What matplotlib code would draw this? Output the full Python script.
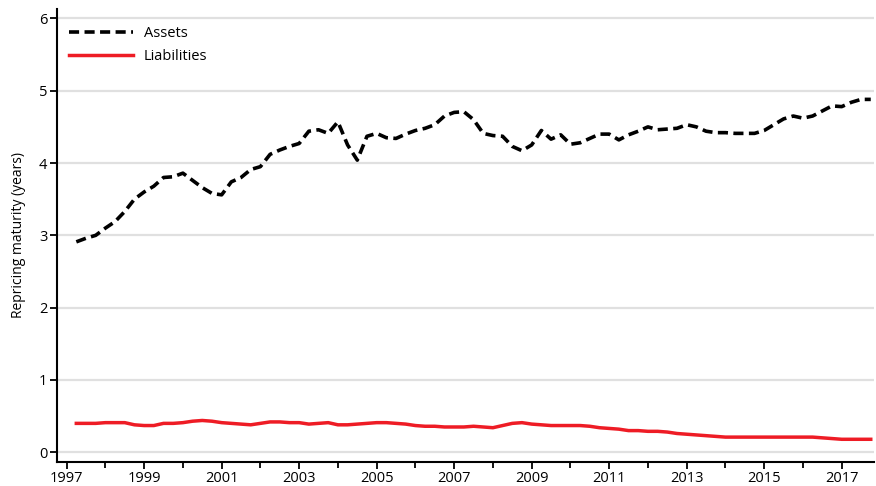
import numpy as np
import matplotlib
matplotlib.use("Agg")
import matplotlib.pyplot as plt
from matplotlib.ticker import MultipleLocator, FixedLocator

# Quarterly observations, 1997 Q2 .. 2017 Q4 (x in fractional years)
start_year = 1997.25
step = 0.25

assets = [2.91, 2.96, 3.00, 3.10, 3.19, 3.33, 3.50, 3.60, 3.68, 3.80, 3.81, 3.86,
          3.76, 3.66, 3.58, 3.56, 3.74, 3.80, 3.91, 3.95, 4.12, 4.18, 4.23, 4.27,
          4.44, 4.46, 4.41, 4.57, 4.25, 4.04, 4.37, 4.41, 4.35, 4.34, 4.40, 4.45,
          4.48, 4.53, 4.65, 4.70, 4.71, 4.60, 4.41, 4.38, 4.37, 4.23, 4.17, 4.25,
          4.45, 4.33, 4.39, 4.26, 4.28, 4.34, 4.40, 4.40, 4.32, 4.39, 4.44, 4.50,
          4.46, 4.47, 4.48, 4.53, 4.50, 4.44, 4.42, 4.42, 4.41, 4.41, 4.41, 4.45,
          4.53, 4.61, 4.65, 4.62, 4.65, 4.72, 4.79, 4.78, 4.84, 4.88, 4.88]

liabilities = [0.40, 0.40, 0.40, 0.41, 0.41, 0.41, 0.38, 0.37, 0.37, 0.40, 0.40, 0.41,
               0.43, 0.44, 0.43, 0.41, 0.40, 0.39, 0.38, 0.40, 0.42, 0.42, 0.41, 0.41,
               0.39, 0.40, 0.41, 0.38, 0.38, 0.39, 0.40, 0.41, 0.41, 0.40, 0.39, 0.37,
               0.36, 0.36, 0.35, 0.35, 0.35, 0.36, 0.35, 0.34, 0.37, 0.40, 0.41, 0.39,
               0.38, 0.37, 0.37, 0.37, 0.37, 0.36, 0.34, 0.33, 0.32, 0.30, 0.30, 0.29,
               0.29, 0.28, 0.26, 0.25, 0.24, 0.23, 0.22, 0.21, 0.21, 0.21, 0.21, 0.21,
               0.21, 0.21, 0.21, 0.21, 0.21, 0.20, 0.19, 0.18, 0.18, 0.18, 0.18]

x_tick_labels = ["1997", "1999", "2001", "2003", "2005", "2007", "2009",
                 "2011", "2013", "2015", "2017"]
y_ticks = [0, 1, 2, 3, 4, 5, 6]

x = start_year + step * np.arange(len(assets))

plt.rcParams['font.family'] = ['Open Sans', 'DejaVu Sans']

fig = plt.figure(figsize=(8.76, 4.86), dpi=100)
ax = fig.add_axes([0.065, 0.050, 0.933, 0.9315])

for yv in y_ticks:
    ax.axhline(yv, color='#e0e0e0', lw=1.6, zorder=0)

ax.plot(x, assets, color='black', lw=2.6, linestyle=(0, (2.8, 1.5)),
        label='Assets', zorder=3)
ax.plot(x, liabilities, color='#ee1c25', lw=2.5, label='Liabilities', zorder=3)

ax.set_xlim(1996.75, 2017.84)
ax.set_ylim(-0.13, 6.13)

ax.xaxis.set_major_locator(FixedLocator([float(v) for v in x_tick_labels]))
ax.set_xticklabels(x_tick_labels)
ax.xaxis.set_minor_locator(MultipleLocator(2.0, offset=0.0))
ax.set_yticks(y_ticks)

for s in ['top', 'right']:
    ax.spines[s].set_visible(False)
for s in ['left', 'bottom']:
    ax.spines[s].set_linewidth(1.5)
    ax.spines[s].set_color('black')

ax.tick_params(axis='both', which='major', direction='out', length=5, width=1.3,
               labelsize=10.5, colors='black', pad=2)
ax.tick_params(axis='x', which='minor', direction='out', length=4, width=1.3)

ax.set_ylabel('Repricing maturity (years)', fontsize=10, labelpad=9)

leg = ax.legend(loc='upper left', frameon=False, fontsize=10.5, handlelength=4.4,
                handletextpad=0.7, labelspacing=0.55, borderaxespad=0.0,
                bbox_to_anchor=(0.008, 0.975))

fig.savefig('out.png', dpi=100)
